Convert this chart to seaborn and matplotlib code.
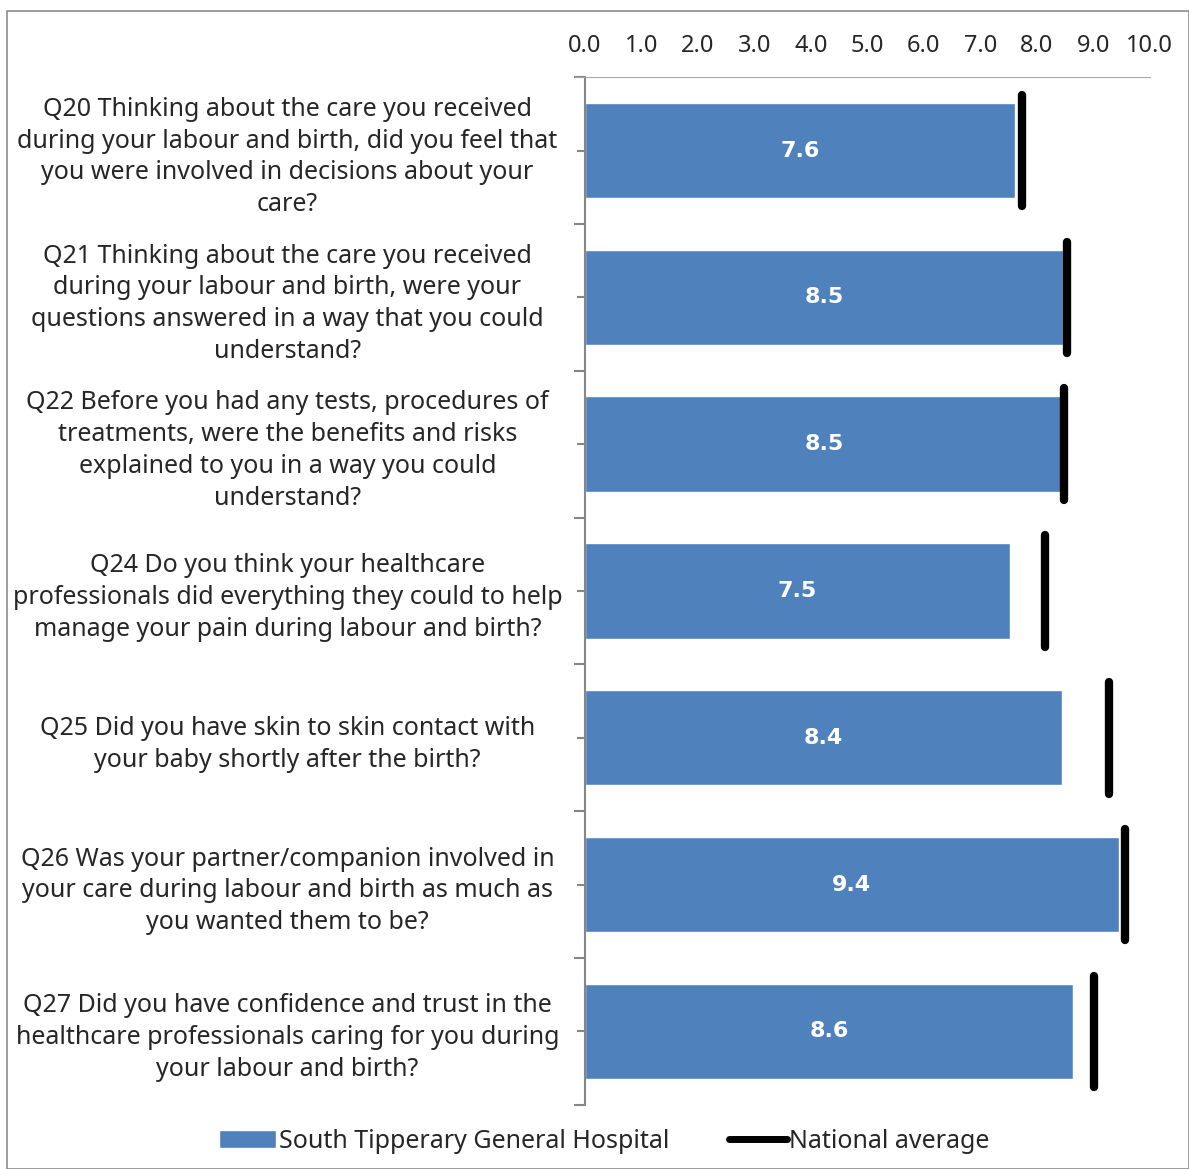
import matplotlib
matplotlib.use("Agg")
import matplotlib.pyplot as plt
import seaborn as sns
import pandas as pd
import numpy as np
from matplotlib.patches import Patch
from matplotlib.lines import Line2D

questions = [
    "Q20 Thinking about the care you received\nduring your labour and birth, did you feel that\nyou were involved in decisions about your\ncare?",
    "Q21 Thinking about the care you received\nduring your labour and birth, were your\nquestions answered in a way that you could\nunderstand?",
    "Q22 Before you had any tests, procedures of\ntreatments, were the benefits and risks\nexplained to you in a way you could\nunderstand?",
    "Q24 Do you think your healthcare\nprofessionals did everything they could to help\nmanage your pain during labour and birth?",
    "Q25 Did you have skin to skin contact with\nyour baby shortly after the birth?",
    "Q26 Was your partner/companion involved in\nyour care during labour and birth as much as\nyou wanted them to be?",
    "Q27 Did you have confidence and trust in the\nhealthcare professionals caring for you during\nyour labour and birth?",
]
hospital = [7.6, 8.5, 8.5, 7.5, 8.4, 9.4, 8.6]
hospital_exact = [7.62, 8.46, 8.48, 7.52, 8.44, 9.45, 8.64]
national = [7.73, 8.53, 8.49, 8.14, 9.27, 9.56, 9.01]
ticks = [0.0, 1.0, 2.0, 3.0, 4.0, 5.0, 6.0, 7.0, 8.0, 9.0, 10.0]

df = pd.DataFrame({"question": questions, "score": hospital_exact,
                   "label": hospital, "national": national})

sns.set_style("white")
plt.rcParams["font.family"] = ["Noto Sans", "DejaVu Sans"]

fig = plt.figure(figsize=(11.89, 11.69), dpi=100)
ax = fig.add_axes([0.492, 0.055, 0.475, 0.879])

blue = "#4F81BD"
grey = "#868686"
sns.barplot(data=df, x="score", y="question", orient="h", color=blue,
            width=0.65, saturation=1, ax=ax)

pos = np.arange(len(questions))
ax.vlines(df["national"], pos - 0.38, pos + 0.38, color="black",
          linewidth=6, capstyle="round", zorder=5)

for i, row in df.iterrows():
    ax.text(row["score"] / 2, i, f"{row['label']:.1f}", ha="center",
            va="center", color="white", fontsize=16, fontweight="bold",
            family="DejaVu Sans")

ax.set_xlim(0, 10)
ax.set_ylim(len(questions) - 0.5, -0.5)
ax.xaxis.tick_top()
ax.set_xticks(ticks)
ax.set_xticklabels([f"{t:.1f}" for t in ticks], fontsize=17)
ax.tick_params(axis="x", length=0, pad=14)
ax.set_xlabel("")
ax.set_ylabel("")
ax.tick_params(axis="y", left=True, length=6, width=1.5, color=grey,
               labelsize=18, pad=0)
ax.set_yticks(list(pos - 0.5) + [len(questions) - 0.5], minor=True)
ax.tick_params(axis="y", which="minor", left=True, length=8, width=1.5,
               color=grey)
for lab in ax.get_yticklabels():
    lab.set_horizontalalignment("center")
    lab.set_multialignment("center")
    lab.set_linespacing(1.36)
    lab.set_x(-0.512)

for side in ["right", "bottom"]:
    ax.spines[side].set_visible(False)
ax.spines["top"].set_color("#a6a6a6")
ax.spines["top"].set_bounds(-0.18, 10)
ax.spines["left"].set_color(grey)
ax.spines["left"].set_linewidth(1.5)

handles = [Patch(facecolor=blue, label="South Tipperary General Hospital"),
           Line2D([0], [0], color="black", linewidth=5, solid_capstyle="round",
                  label="National average")]
fig.legend(handles=handles, loc="lower center", ncol=2, frameon=False,
           fontsize=18, bbox_to_anchor=(0.508, -0.006), handlelength=2.3,
           handletextpad=0.1, columnspacing=2.4)

fig.patches.append(plt.Rectangle((0.006, 0.0), 0.994, 0.991, transform=fig.transFigure,
                                 fill=False, edgecolor="#8c8c8c", linewidth=1.2))

fig.savefig("out.png", dpi=100)
